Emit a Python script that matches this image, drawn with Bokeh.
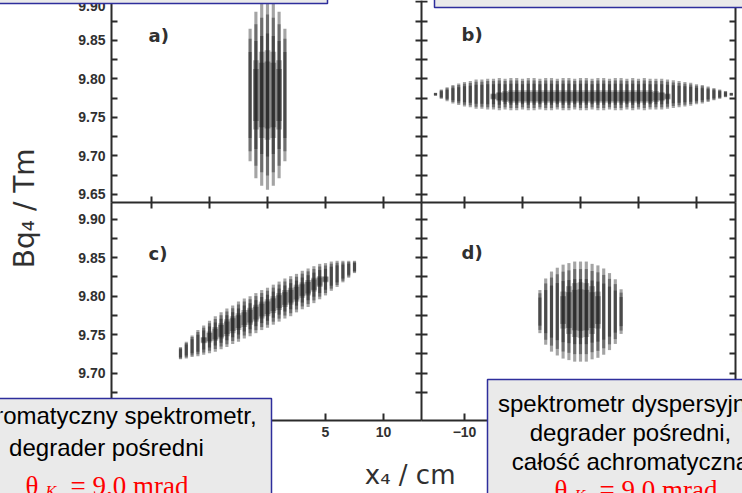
from bokeh.plotting import figure
from bokeh.models import Range1d, LinearAxis, FixedTicker, Label, CustomJSTickFormatter, PrintfTickFormatter
from bokeh.embed import file_html
from bokeh.resources import INLINE

# ---------------- data ----------------
# panel a) : vertical ellipse
a_x = [-1.5, -1.0, -0.5, 0.0, 0.5, 1.0, 1.5]
a_center = 9.779
a_half = [0.086, 0.108, 0.118, 0.123, 0.118, 0.108, 0.086]
a_core_x = [-1.0, -0.5, 0.0, 0.5, 1.0]
a_core_half = [0.045, 0.056, 0.058, 0.056, 0.045]

# panel b) : horizontal ellipse
b_x = [-12.5, -12.0, -11.5, -11.0, -10.5, -10.0, -9.5, -9.0, -8.5, -8.0, -7.5, -7.0, -6.5,
       -6.0, -5.5, -5.0, -4.5, -4.0, -3.5, -3.0, -2.5, -2.0, -1.5, -1.0, -0.5, 0.0,
       0.5, 1.0, 1.5, 2.0, 2.5, 3.0, 3.5, 4.0, 4.5, 5.0, 5.5, 6.0, 6.5, 7.0, 7.5,
       8.0, 8.5, 9.0, 9.5, 10.0, 10.5, 11.0, 11.5, 12.0, 12.5, 13.0]
b_center = 9.780
b_half = [0.002, 0.006, 0.009, 0.012, 0.014, 0.016, 0.017, 0.019, 0.019, 0.020, 0.020, 0.021, 0.020,
          0.021, 0.021, 0.020, 0.021, 0.021, 0.020, 0.021, 0.021, 0.020, 0.021, 0.021, 0.020, 0.021,
          0.021, 0.020, 0.021, 0.021, 0.020, 0.021, 0.021, 0.020, 0.021, 0.020, 0.021, 0.020, 0.020,
          0.020, 0.019, 0.018, 0.017, 0.016, 0.015, 0.013, 0.012, 0.010, 0.008, 0.006, 0.004, 0.002]
b_core_x = [-7.5, -7.0, -6.5, -6.0, -5.5, -5.0, -4.5, -4.0, -3.5, -3.0, -2.5, -2.0, -1.5, -1.0, -0.5,
            0.0, 0.5, 1.0, 1.5, 2.0, 2.5, 3.0, 3.5, 4.0, 4.5, 5.0, 5.5, 6.0, 6.5, 7.0, 7.5]
b_core_center = 9.777
b_core_half = [0.004, 0.006, 0.007, 0.008, 0.008, 0.008, 0.008, 0.008, 0.008, 0.008, 0.008, 0.008,
               0.008, 0.008, 0.008, 0.008, 0.008, 0.008, 0.008, 0.008, 0.008, 0.008, 0.008, 0.008,
               0.008, 0.008, 0.008, 0.008, 0.007, 0.006, 0.004]

# panel c) : tilted band
c_x = [-7.5, -7.0, -6.5, -6.0, -5.5, -5.0, -4.5, -4.0, -3.5, -3.0, -2.5, -2.0, -1.5, -1.0, -0.5,
       0.0, 0.5, 1.0, 1.5, 2.0, 2.5, 3.0, 3.5, 4.0, 4.5, 5.0, 5.5, 6.0, 6.5, 7.0, 7.5]
c_y = [9.726, 9.730, 9.735, 9.739, 9.743, 9.747, 9.751, 9.755, 9.759, 9.763, 9.767, 9.771, 9.774,
       9.778, 9.782, 9.785, 9.789, 9.793, 9.797, 9.800, 9.804, 9.808, 9.811, 9.815, 9.819, 9.822,
       9.826, 9.829, 9.832, 9.835, 9.838]
c_half = [0.008, 0.011, 0.014, 0.017, 0.019, 0.021, 0.023, 0.024, 0.025, 0.025, 0.026, 0.026, 0.026,
          0.026, 0.026, 0.026, 0.026, 0.026, 0.026, 0.026, 0.025, 0.025, 0.025, 0.024, 0.023, 0.021,
          0.019, 0.017, 0.014, 0.011, 0.008]
c_core_half = [0.000, 0.000, 0.000, 0.000, 0.004, 0.007, 0.009, 0.010, 0.011, 0.011, 0.011, 0.011,
               0.011, 0.011, 0.011, 0.011, 0.011, 0.011, 0.011, 0.011, 0.011, 0.010, 0.010, 0.009,
               0.007, 0.004, 0.000, 0.000, 0.000, 0.000, 0.000]

# panel d) : round blob
d_x = [-3.5, -3.0, -2.5, -2.0, -1.5, -1.0, -0.5, 0.0, 0.5, 1.0, 1.5, 2.0, 2.5, 3.0, 3.5]
d_center = 9.780
d_half = [0.028, 0.043, 0.052, 0.057, 0.061, 0.063, 0.065, 0.065, 0.065, 0.062, 0.060, 0.056, 0.050, 0.042, 0.029]
d_core_x = [-1.5, -1.0, -0.5, 0.0, 0.5, 1.0, 1.5]
d_core_center = 9.782
d_core_half = [0.024, 0.031, 0.035, 0.036, 0.035, 0.031, 0.024]

x_ticks = [-10, -5, 0, 5, 10]
y_ticks_upper = [9.65, 9.70, 9.75, 9.80, 9.85, 9.90]
y_minor_upper = [9.675, 9.725, 9.775, 9.825, 9.875]
y_ticks_lower = [9.70, 9.75, 9.80, 9.85, 9.90]
y_minor_lower = [9.675, 9.725, 9.775, 9.825, 9.875]

# ---------------- layout (reference pixel geometry) ----------------
REF_W, REF_H = 742, 493
W, H = REF_W, REF_H
X0_LEFT, X0_RIGHT, PX_PER_CM = 267.0, 580.0, 11.6
Y980_UP, Y980_LO, PX_PER_T = 78.3, 295.7, 770.0
L_EDGE, MID, R_EDGE = 111, 421, 735
SEP, BOT = 202, 420


def cm_l(X):
    return (X - X0_LEFT) / PX_PER_CM


def cm_r(X):
    return (X - X0_RIGHT) / PX_PER_CM


def t_up(Y):
    return 9.80 - (Y - Y980_UP) / PX_PER_T


def t_lo(Y):
    return 9.80 - (Y - Y980_LO) / PX_PER_T


p = figure(width=W, height=H,
           x_range=Range1d(cm_l(0), cm_l(REF_W)), y_range=Range1d(t_lo(REF_H), t_lo(0)),
           x_axis_type=None, y_axis_type=None, toolbar_location=None,
           output_backend="svg", min_border=0)
p.extra_x_ranges = {"r": Range1d(cm_r(0), cm_r(REF_W))}
p.extra_y_ranges = {"u": Range1d(t_up(REF_H), t_up(0))}
p.outline_line_color = None
p.background_fill_color = "white"
p.border_fill_color = "white"

INK = "#1c1c1c"
SW = 0.27  # streak width in cm


def streaks(xs, yc, halves, xr="default", yr="default"):
    for frac, alpha in ((1.0, 0.4), (0.85, 0.4), (0.65, 0.45)):
        p.rect(x=xs, y=yc, width=SW, height=[2 * h * frac for h in halves],
               fill_color=INK, fill_alpha=alpha, line_color=None,
               x_range_name=xr, y_range_name=yr)


def core(xs, yc, halves, xr="default", yr="default"):
    for frac, alpha in ((1.0, 0.3), (0.75, 0.35)):
        p.rect(x=xs, y=yc, width=0.5, height=[2 * h * frac for h in halves],
               fill_color=INK, fill_alpha=alpha, line_color=None,
               x_range_name=xr, y_range_name=yr)


# a) upper-left
streaks(a_x, a_center, a_half, "default", "u")
core(a_core_x, a_center, a_core_half, "default", "u")
# b) upper-right
streaks(b_x, b_center, b_half, "r", "u")
core(b_core_x, b_core_center, b_core_half, "r", "u")
# c) lower-left
streaks(c_x, c_y, c_half)
core(c_x, c_y, c_core_half)
# d) lower-right
streaks(d_x, d_center, d_half, "r", "default")
core(d_core_x, d_core_center, d_core_half, "r", "default")

# ---------------- axes ----------------
AX = "#2b2b2b"
empty = CustomJSTickFormatter(code="return ''")


def style(ax, tin, tout, labels):
    ax.axis_line_color = AX
    ax.axis_line_width = 2
    ax.major_tick_line_color = AX
    ax.major_tick_line_width = 2
    ax.minor_tick_line_color = AX
    ax.minor_tick_line_width = 2
    ax.major_tick_in = tin
    ax.major_tick_out = tout
    ax.minor_tick_in = tin
    ax.minor_tick_out = tout
    if labels:
        ax.major_label_text_font = "Liberation Sans"
        ax.major_label_text_font_style = "bold"
        ax.major_label_text_font_size = "14px"
        ax.major_label_text_color = "#303030"
        ax.major_label_standoff = 6
    else:
        ax.formatter = empty


def yaxis(side, xr, yr, loc, bounds, ticks, minor, tin, tout, labels):
    ax = LinearAxis(x_range_name=xr, y_range_name=yr, fixed_location=loc, bounds=bounds,
                    ticker=FixedTicker(ticks=ticks, minor_ticks=minor))
    if labels:
        ax.formatter = PrintfTickFormatter(format="%.2f")
    style(ax, tin, tout, labels)
    p.add_layout(ax, side)


def xaxis(xr, loc, bounds, tin, tout, labels):
    ax = LinearAxis(x_range_name=xr, y_range_name="default", fixed_location=loc, bounds=bounds,
                    ticker=FixedTicker(ticks=x_ticks, minor_ticks=[]))
    style(ax, tin, tout, labels)
    ax.minor_tick_in = 0
    ax.minor_tick_out = 0
    p.add_layout(ax, "below")


up_b = (t_up(SEP), t_up(-20))
lo_b = (t_lo(BOT), t_lo(SEP))
# left edge with labels
yaxis("left", "default", "u", cm_l(L_EDGE), up_b, y_ticks_upper, y_minor_upper, 6, 0, True)
yaxis("left", "default", "default", cm_l(L_EDGE), lo_b, y_ticks_lower, y_minor_lower, 6, 0, True)
# middle divider
yaxis("left", "default", "u", cm_l(MID), up_b, y_ticks_upper, y_minor_upper, 6, 6, False)
yaxis("left", "default", "default", cm_l(MID), lo_b, y_ticks_lower, y_minor_lower, 6, 6, False)
# right edge
yaxis("right", "r", "u", cm_r(R_EDGE), up_b, y_ticks_upper, y_minor_upper, 6, 0, False)
yaxis("right", "r", "default", cm_r(R_EDGE), lo_b, y_ticks_lower, y_minor_lower, 6, 0, False)
# horizontal separator
xaxis("default", t_lo(SEP), (cm_l(L_EDGE), cm_l(MID)), 6, 6, False)
xaxis("r", t_lo(SEP), (cm_r(MID), cm_r(R_EDGE)), 6, 6, False)
# bottom edge with labels
xaxis("default", t_lo(BOT), (cm_l(L_EDGE), cm_l(MID)), 7, 0, True)
xaxis("r", t_lo(BOT), (cm_r(MID), cm_r(R_EDGE)), 7, 0, True)

# ---------------- texts ----------------
SCAN = "#303030"
for txt, X, Y in (("a)", 148, 35), ("b)", 461, 34), ("c)", 148, 253), ("d)", 461, 252)):
    p.add_layout(Label(x=cm_l(X), y=t_lo(Y), text=txt, text_align="left", text_baseline="middle",
                       text_font="DejaVu Sans", text_font_style="bold", text_font_size="18px",
                       text_color=SCAN))

p.add_layout(Label(x=cm_l(24), y=t_lo(190), text="Bq\u2084   /   Tm", angle=90, angle_units="deg",
                   text_align="center", text_baseline="middle", text_font="DejaVu Sans",
                   text_font_size="28px", text_color=SCAN))
p.add_layout(Label(x=cm_l(422), y=t_lo(474), text="x\u2084  /   cm", text_align="center",
                   text_baseline="middle", text_font="DejaVu Sans", text_font_size="26px",
                   text_color=SCAN))

# ---------------- overlay boxes ----------------
BOX_FILL, BOX_LINE = "#EAEAEA", "#2E2E9C"
for Lx, Rx, Ty, By in ((-20, 327, -60, 3), (434, 770, -60, 7), (-60, 271, 398, 520), (487, 770, 379, 520)):
    p.quad(left=cm_l(Lx), right=cm_l(Rx), top=t_lo(Ty), bottom=t_lo(By),
           fill_color=BOX_FILL, line_color=BOX_LINE, line_width=1.5, level="annotation")


def box_text(txt, X, Y, size="24px"):
    p.add_layout(Label(x=cm_l(X), y=t_lo(Y), text=txt, text_align="center", text_baseline="middle",
                       text_font="Liberation Sans", text_font_size=size, text_color="black",
                       level="overlay"))


def theta(X, Ybase):
    p.add_layout(Label(x=cm_l(X), y=t_lo(Ybase), text="\u03b8", text_align="left",
                       text_baseline="alphabetic", text_font="Liberation Serif",
                       text_font_size="27px", text_color="#FF0000", level="overlay"))
    p.add_layout(Label(x=cm_l(X + 20), y=t_lo(Ybase + 6), text="K", text_align="left",
                       text_baseline="alphabetic", text_font="Liberation Serif",
                       text_font_style="italic", text_font_size="16px", text_color="#FF0000",
                       level="overlay"))
    p.add_layout(Label(x=cm_l(X + 45), y=t_lo(Ybase), text="= 9.0 mrad", text_align="left",
                       text_baseline="alphabetic", text_font="Liberation Serif",
                       text_font_size="27px", text_color="#FF0000", level="overlay"))


box_text("achromatyczny spektrometr,", 106, 415)
box_text("degrader pośredni", 106, 447)
theta(25, 485)

box_text("spektrometr dyspersyjny,", 630, 403)
box_text("degrader pośredni,", 630, 432)
box_text("całość achromatyczna", 630, 461)
theta(554, 489)

open("out.html", "w").write(file_html(p, INLINE))
